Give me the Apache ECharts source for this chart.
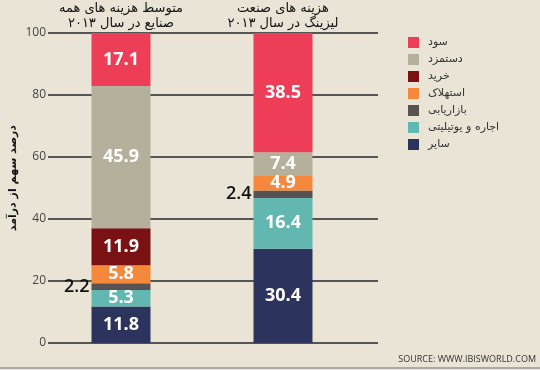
<!DOCTYPE html>
<html><head><meta charset="utf-8">
<script src="https://cdn.jsdelivr.net/npm/echarts@6/dist/echarts.min.js"></script>
<style>html,body{margin:0;padding:0;background:#EAE4D7;}#c{width:540px;height:370px;}</style>
</head><body><div id="c"></div>
<script>
const categories = ['متوسط هزینه های همه\nصنایع در سال ۲۰۱۳', 'هزینه های صنعت\nلیزینگ در سال ۲۰۱۳'];
const seriesNames = ['سایر', 'اجاره و یوتیلیتی', 'بازاریابی', 'استهلاک', 'خرید', 'دستمزد', 'سود'];
const other = [11.8, 30.4];
const rentUtilities = [5.3, 16.4];
const marketing = [2.2, 2.4];
const depreciation = [5.8, 4.9];
const purchases = [11.9, 0];
const wages = [45.9, 7.4];
const profit = [17.1, 38.5];
const yTicks = [0, 20, 40, 60, 80, 100];
const colors = ['#2C335C', '#62B8B0', '#585252', '#F5883A', '#7A1214', '#B5B09C', '#EE3E57'];
const values = [other, rentUtilities, marketing, depreciation, purchases, wages, profit];

const series = seriesNames.map((name, i) => ({
  name: name,
  type: 'bar',
  stack: 'total',
  barWidth: 59,
  xAxisIndex: 0, yAxisIndex: 0,
  itemStyle: { color: colors[i] },
  label: {
    show: true,
    position: i === 2 ? 'left' : 'inside',
    distance: 2,
    color: i === 2 ? '#111' : '#fff',
    fontFamily: 'Open Sans, sans-serif',
    fontWeight: i === 2 ? 600 : 'bold',
    fontSize: 18,
    formatter: p => p.value > 0 ? p.value.toFixed(1) : ''
  },
  data: values[i]
}));

const chart = echarts.init(document.getElementById('c'));
chart.setOption({
  backgroundColor: '#EAE4D7',
  animation: false,
  grid: [
    { left: 40, right: 176, top: 33, bottom: 27, outerBoundsMode: 'none', containLabel: false },
    { left: 48, right: 162, top: 33, bottom: 27, outerBoundsMode: 'none', containLabel: false }
  ],
  xAxis: [
    { type: 'category', gridIndex: 0, position: 'top', data: categories,
      axisLine: { show: false }, axisTick: { show: false },
      axisLabel: { margin: 2, color: '#111', fontSize: 13, lineHeight: 15, fontFamily: 'DejaVu Sans, sans-serif' } },
    { type: 'category', gridIndex: 1, data: ['a'], show: false }
  ],
  yAxis: [
    { type: 'value', gridIndex: 0, min: 0, max: 100, interval: 20, show: false },
    { type: 'value', gridIndex: 1, min: 0, max: 100, interval: 20,
      axisLine: { show: false }, axisTick: { show: false },
      axisLabel: { margin: 2, color: '#444', fontSize: 12, fontFamily: 'Open Sans, sans-serif',
        formatter: v => yTicks.includes(v) ? String(v) : '' },
      splitLine: { show: true, lineStyle: { color: '#555', width: 2 } } }
  ],
  legend: {
    data: seriesNames.slice().reverse(),
    orient: 'vertical',
    left: 403, top: 32,
    itemWidth: 11, itemHeight: 11, itemGap: 6,
    icon: 'rect',
    textStyle: { color: '#333', fontSize: 11, fontFamily: 'DejaVu Sans, sans-serif', padding: [6, 0, 0, 4] }
  },
  graphic: [
    { type: 'text', left: 8, top: 125, rotation: Math.PI / 2,
      style: { text: 'درصد سهم از درآمد', fill: '#111', font: 'bold 11px DejaVu Sans, sans-serif' } },
    { type: 'text', right: 4, top: 355,
      style: { text: 'SOURCE: WWW.IBISWORLD.COM', fill: '#333', font: '9px Open Sans, sans-serif' } },
    { type: 'rect', left: 0, top: 367, shape: { width: 540, height: 2 }, style: { fill: '#aaa' } }
  ],
  series: series
});
</script></body></html>
